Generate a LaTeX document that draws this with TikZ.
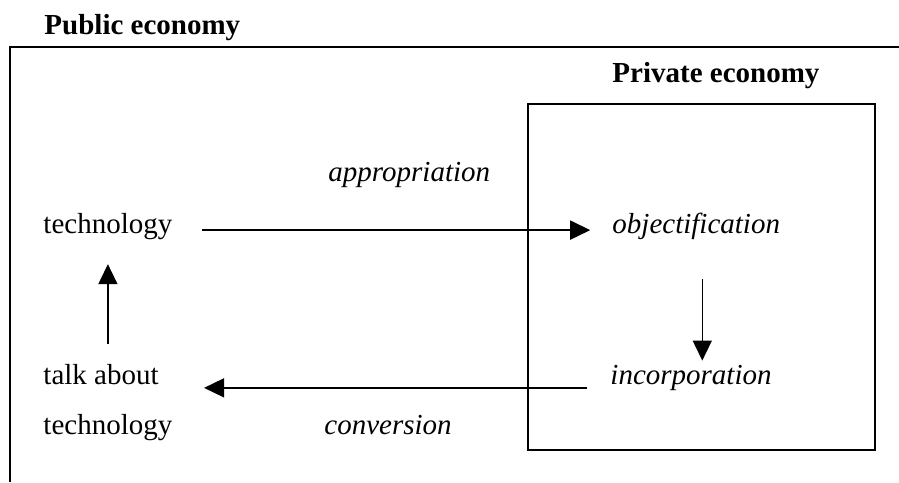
\documentclass[tikz,border=0pt]{standalone}
\usepackage{fontspec}
\setmainfont{Liberation Serif}
\usetikzlibrary{arrows.meta}

\begin{document}
\begin{tikzpicture}[x=0.4138pt, y=-0.4138pt,
    lbl/.style={anchor=base west, inner sep=0pt, text height=0.62em, text depth=0.32em,
        font=\fontsize{12}{14.4}\selectfont},
    ttl/.style={lbl, font=\fontsize{12}{14.4}\selectfont\bfseries},
    act/.style={lbl, font=\fontsize{12}{14.4}\selectfont\itshape},
    arr/.style={-{Triangle[length=8.3pt, width=7.9pt]}, line width=0.6pt},
    frame/.style={line width=0.9pt}]
    \useasboundingbox (0,0) rectangle (899,482);

    % Draw the two economies
    \draw[frame] (10,482) -- (10,47) -- (899,47);
    \draw[frame] (528,104) rectangle (875,450);
    \node[ttl] (pub) at (44,34) {Public economy};
    \node[ttl] (priv) at (612,82) {Private economy};

    % Place the labels
    \node[lbl] (tech) at (43,233) {technology};
    \node[lbl] (talk) at (43,384) {talk about};
    \node[lbl] (talktech) at (43,434) {technology};
    \node[act] (obj) at (612,233) {objectification};
    \node[act] (inc) at (610,384) {incorporation};
    \node[act] (appr) at (328,181) {appropriation};
    \node[act] (conv) at (324,434) {conversion};

    % Draw the arrows between them
    \draw[arr, shorten <=12pt, shorten >=9pt] ([yshift=1.2pt]tech.base east) -- ([yshift=1.2pt]obj.base west);
    \draw[arr, shorten >=3.3pt, shorten <=15.7pt] ([xshift=2.5pt]obj.south) -- ([xshift=2.5pt]obj.south |- inc.north);
    \draw[arr, shorten <=9.5pt, shorten >=18.6pt] ([yshift=-1.6pt]inc.base west) -- ([yshift=-1.6pt]talk.base east);
    \draw[arr, shorten <=10pt, shorten >=9.5pt] (tech.south |- talk.north) -- (tech.south);
\end{tikzpicture}
\end{document}
